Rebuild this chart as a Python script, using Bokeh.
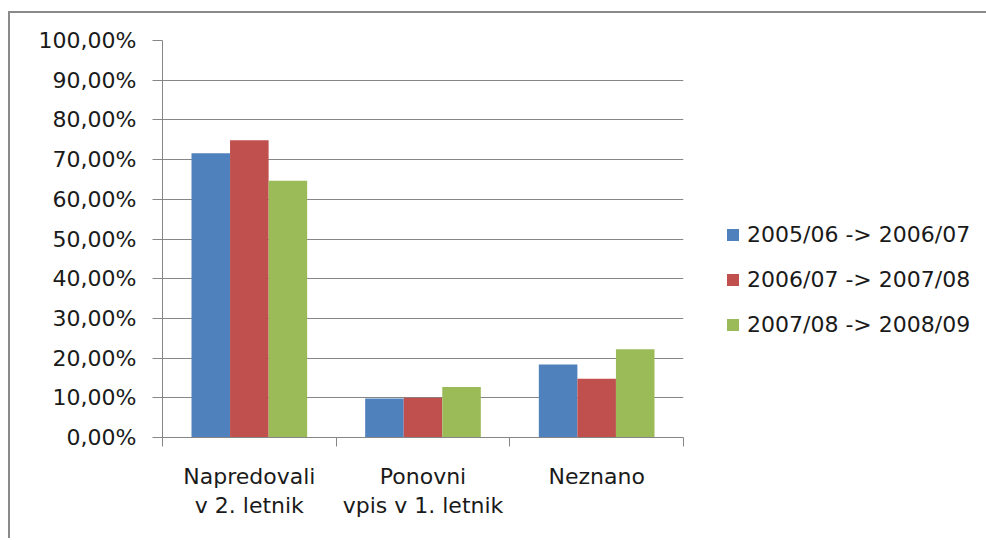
from bokeh.plotting import figure
from bokeh.models import FixedTicker, Legend, LegendItem, Range1d
from bokeh.embed import file_html
from bokeh.resources import INLINE

categories = ["Napredovali\nv 2. letnik", "Ponovni\nvpis v 1. letnik", "Neznano"]
series_names = ["2005/06 -> 2006/07", "2006/07 -> 2007/08", "2007/08 -> 2008/09"]
values_2005 = [71.6, 9.8, 18.4]
values_2006 = [74.9, 10.0, 14.8]
values_2007 = [64.7, 12.7, 22.2]
colors = ["#4F81BD", "#C0504D", "#9BBB59"]
y_ticks = [0, 10, 20, 30, 40, 50, 60, 70, 80, 90, 100]
y_tick_labels = ["0,00%", "10,00%", "20,00%", "30,00%", "40,00%", "50,00%",
                 "60,00%", "70,00%", "80,00%", "90,00%", "100,00%"]

FONT = "DejaVu Sans"
GRID = "#868686"

p = figure(output_backend="svg", toolbar_location=None,
           frame_width=521, frame_height=397,
           min_border_left=152, min_border_right=295,
           min_border_top=27, min_border_bottom=101,
           x_range=Range1d(0, 3), y_range=Range1d(0, 100))
p.styles = {"border-left": "2px solid #8a8a8a", "border-top": "2px solid #8a8a8a",
            "margin-top": "11px", "margin-left": "8px"}
p.outline_line_color = None
p.background_fill_color = "white"
p.border_fill_color = "white"

series = [values_2005, values_2006, values_2007]
bar_w = 0.222
offsets = [-bar_w, 0.0, bar_w]
centers = [i + 0.5 for i in range(len(categories))]
renderers = []
for vals, off, col in zip(series, offsets, colors):
    r = p.vbar(x=[c + off for c in centers], top=vals, width=bar_w,
               fill_color=col, line_color=None)
    renderers.append(r)

# x axis
p.xaxis.ticker = FixedTicker(ticks=centers, minor_ticks=[0, 1, 2, 3])
p.xaxis.major_label_overrides = {c: lab for c, lab in zip(centers, categories)}
p.xaxis.major_tick_out = 0
p.xaxis.major_tick_in = 0
p.xaxis.minor_tick_out = 9
p.xaxis.minor_tick_in = 0
p.xaxis.minor_tick_line_color = GRID
p.xaxis.axis_line_color = GRID
p.xaxis.major_label_text_font = FONT
p.xaxis.major_label_text_font_size = "22px"
p.xaxis.major_label_text_color = "#1a1a1a"
p.xaxis.major_label_text_line_height = 1.17
p.xaxis.major_label_standoff = 17
p.xgrid.visible = False

# y axis
p.yaxis.ticker = FixedTicker(ticks=y_ticks, minor_ticks=[])
p.yaxis.major_label_overrides = {t: lab for t, lab in zip(y_ticks, y_tick_labels)}
p.yaxis.major_tick_out = 10
p.yaxis.major_tick_in = 0
p.yaxis.minor_tick_out = 0
p.yaxis.minor_tick_in = 0
p.yaxis.major_tick_line_color = GRID
p.yaxis.axis_line_color = GRID
p.yaxis.major_label_text_font = FONT
p.yaxis.major_label_text_font_size = "22px"
p.yaxis.major_label_text_color = "#1a1a1a"
p.yaxis.major_label_standoff = 16
p.ygrid.grid_line_color = GRID
p.ygrid.grid_line_width = 1

legend = Legend(items=[LegendItem(label=n, renderers=[r]) for n, r in zip(series_names, renderers)],
                location=(42, 100), orientation="vertical",
                glyph_width=15, glyph_height=15, label_standoff=7,
                label_text_font=FONT, label_text_font_size="22px",
                label_text_color="#1a1a1a", label_height=20,
                spacing=20, padding=0, margin=0,
                border_line_color=None, background_fill_alpha=0)
p.add_layout(legend, "right")

open("out.html", "w").write(file_html(p, INLINE))
